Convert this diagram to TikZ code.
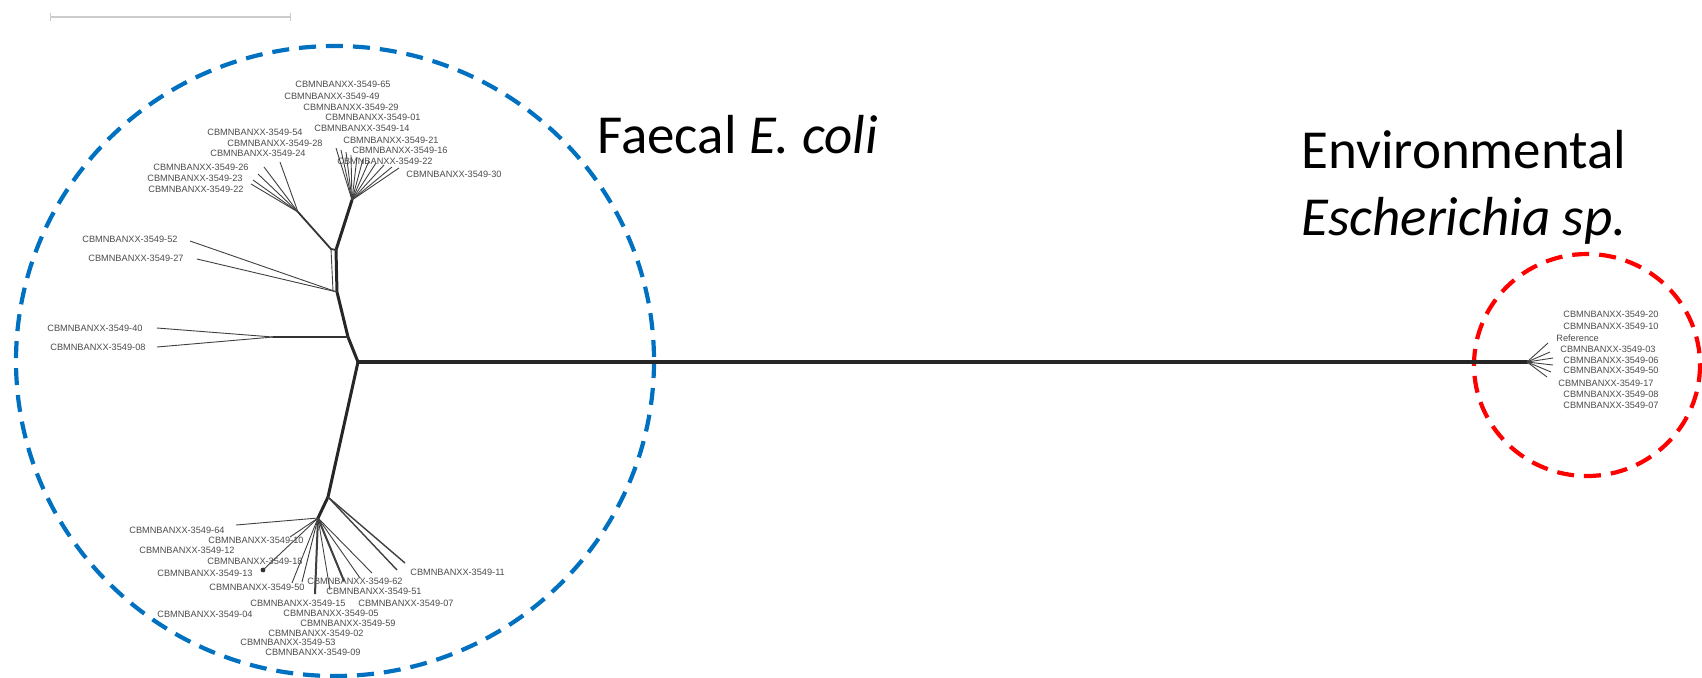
\documentclass[tikz,border=0pt]{standalone}
\usepackage{fontspec}
\setmainfont{Carlito}
\newfontfamily\lblfont{Liberation Sans}
\definecolor{blueC}{RGB}{0,112,192}
\definecolor{redC}{RGB}{255,0,0}
\begin{document}
\begin{tikzpicture}[x=0.5pt,y=-0.5pt,
 trunk/.style={line width=1.5pt, black!85, line join=round, line cap=round},
 br/.style={line width=0.9pt, black!80, line cap=round},
 leaf/.style={line width=0.45pt, black!75},
 lbl/.style={anchor=west, inner sep=0pt, font=\lblfont\fontsize{4.6}{5}\selectfont, text=black!70},
 big/.style={anchor=base west, inner sep=0pt, font=\fontsize{27.5}{33}\selectfont},
 grp/.style={dash pattern=on 8.5pt off 5pt, line width=2.1pt}
]
\useasboundingbox (0,0) rectangle (1702,677);

% scale bar
\coordinate (sbL) at (50,17);
\coordinate (sbR) at (290,17);
\draw[gray!40, line width=1pt] (sbL) -- (sbR);
\draw[gray!40, line width=0.5pt] ([yshift=2pt]sbL) -- ([yshift=-2pt]sbL);
\draw[gray!40, line width=0.5pt] ([yshift=2pt]sbR) -- ([yshift=-2pt]sbR);

% group circles
\draw[grp, blueC] (335,361) ellipse [x radius=319, y radius=315];
\draw[grp, redC] (1587,365) ellipse [x radius=113, y radius=111];

% big labels
\node[big] (faecal) at (597,153) {Faecal \textit{E. coli}};
\node[big] (env1) at (1301,168) {Environmental};
\node[big] (env2) at (1301,235) {\textit{Escherichia sp.}};

% internal nodes
\coordinate (R) at (358,362);
\coordinate (U1) at (348,337);
\coordinate (U2) at (337,292);
\coordinate (U3) at (336,250);
\coordinate (U4) at (352,200);
\coordinate (B1) at (331,249);
\coordinate (B1b) at (333,291);
\coordinate (B2) at (298,212);
\coordinate (H1) at (273,337);
\coordinate (L1) at (328,497);
\coordinate (L2) at (318,518);
\coordinate (E) at (1527,362);

% main trunk
\draw[trunk, line width=1.7pt] (R) -- (E);
\draw[trunk] (R) -- (U1) -- (U2) -- (U3) -- (U4);
\draw[trunk] (R) -- (L1) -- (L2);
\draw[br] (U3) -- (B1) -- (B2);
\draw[leaf] (B1) -- (B1b);
\draw[br] (U1) -- (H1);

% upper right fan
\foreach \i/\x/\y in {a/336/148,b/341/150,c/346/152,d/351/155,e/357/157,f/363/159,g/369/161,h/376/163,i/384/165,j/392/167,k/399/168}
  {\coordinate (ur\i) at (\x,\y); \draw[leaf] (U4) -- (ur\i);}

% upper left fan
\foreach \i/\x/\y in {a/280/162,b/264/167,c/258/174,d/253/180,e/251/184}
  {\coordinate (ul\i) at (\x,\y); \draw[leaf] (B2) -- (ul\i);}

% 52 / 27
\coordinate (l52) at (190,241);
\coordinate (l27) at (197,259);
\draw[leaf] (U2) -- (l52);
\draw[leaf] (U2) -- (l27);

% 40 / 08
\coordinate (l40) at (157,328);
\coordinate (l08) at (157,347);
\draw[leaf] (H1) -- (l40);
\draw[leaf] (H1) -- (l08);

% lower fan
\foreach \i/\x/\y in {a/405/563,b/397/570}
  {\coordinate (lr\i) at (\x,\y); \draw[leaf, line width=0.7pt] (L1) -- (lr\i);}
\foreach \i/\x/\y in {a/236/525,b/290/537,c/263/570,d/292/583,e/302/582,f/315/594,g/330/590,h/344/581,i/360/578,j/372/573}
  {\coordinate (lf\i) at (\x,\y); \draw[leaf] (L2) -- (lf\i);}
\draw[leaf, line width=1pt] (L2) -- (lff);
\draw[leaf, line width=1pt] (L2) -- (lfh);
\fill[black!80] (lfc) circle (1.2pt);

% red fan
\foreach \i/\x/\y in {a/1548/343,b/1550/352,c/1553/358,d/1553/365,e/1551/372,f/1547/377}
  {\coordinate (rf\i) at (\x,\y); \draw[leaf] (E) -- (rf\i);}

% labels upper right
\node[lbl] (n65) at (295,84) {CBMNBANXX-3549-65};
\node[lbl] (n49) at (284,96) {CBMNBANXX-3549-49};
\node[lbl] (n29) at (303,107) {CBMNBANXX-3549-29};
\node[lbl] (n01) at (325,117) {CBMNBANXX-3549-01};
\node[lbl] (n14) at (314,128) {CBMNBANXX-3549-14};
\node[lbl] (n21) at (343,140) {CBMNBANXX-3549-21};
\node[lbl] (n16) at (352,150) {CBMNBANXX-3549-16};
\node[lbl] (n22a) at (337,161) {CBMNBANXX-3549-22};
\node[lbl] (n30) at (406,174) {CBMNBANXX-3549-30};
% labels upper left
\node[lbl] (n54) at (207,132) {CBMNBANXX-3549-54};
\node[lbl] (n28) at (227,143) {CBMNBANXX-3549-28};
\node[lbl] (n24) at (210,153) {CBMNBANXX-3549-24};
\node[lbl] (n26) at (153,167) {CBMNBANXX-3549-26};
\node[lbl] (n23) at (147,178) {CBMNBANXX-3549-23};
\node[lbl] (n22b) at (148,189) {CBMNBANXX-3549-22};
\node[lbl] (n52) at (82,239) {CBMNBANXX-3549-52};
\node[lbl] (n27) at (88,258) {CBMNBANXX-3549-27};
\node[lbl] (n40) at (47,328) {CBMNBANXX-3549-40};
\node[lbl] (n08) at (50,347) {CBMNBANXX-3549-08};
% labels lower
\node[lbl] (n64) at (129,530) {CBMNBANXX-3549-64};
\node[lbl] (n10) at (208,540) {CBMNBANXX-3549-10};
\node[lbl] (n12) at (139,550) {CBMNBANXX-3549-12};
\node[lbl] (n18) at (207,561) {CBMNBANXX-3549-18};
\node[lbl] (n13) at (157,573) {CBMNBANXX-3549-13};
\node[lbl] (n50) at (209,587) {CBMNBANXX-3549-50};
\node[lbl] (n62) at (307,581) {CBMNBANXX-3549-62};
\node[lbl] (n51) at (326,591) {CBMNBANXX-3549-51};
\node[lbl] (n15) at (250,603) {CBMNBANXX-3549-15};
\node[lbl] (n07) at (358,603) {CBMNBANXX-3549-07};
\node[lbl] (n11) at (410,572) {CBMNBANXX-3549-11};
\node[lbl] (n04) at (157,614) {CBMNBANXX-3549-04};
\node[lbl] (n05) at (283,613) {CBMNBANXX-3549-05};
\node[lbl] (n59) at (300,623) {CBMNBANXX-3549-59};
\node[lbl] (n02) at (268,633) {CBMNBANXX-3549-02};
\node[lbl] (n53) at (240,642) {CBMNBANXX-3549-53};
\node[lbl] (n09) at (265,652) {CBMNBANXX-3549-09};
% labels red cluster
\node[lbl] (e20) at (1563,314) {CBMNBANXX-3549-20};
\node[lbl] (e10) at (1563,326) {CBMNBANXX-3549-10};
\node[lbl] (eref) at (1556,338) {Reference};
\node[lbl] (e03) at (1560,349) {CBMNBANXX-3549-03};
\node[lbl] (e06) at (1563,360) {CBMNBANXX-3549-06};
\node[lbl] (e50) at (1563,370) {CBMNBANXX-3549-50};
\node[lbl] (e17) at (1558,383) {CBMNBANXX-3549-17};
\node[lbl] (e08) at (1563,394) {CBMNBANXX-3549-08};
\node[lbl] (e07) at (1563,405) {CBMNBANXX-3549-07};
\end{tikzpicture}
\end{document}
